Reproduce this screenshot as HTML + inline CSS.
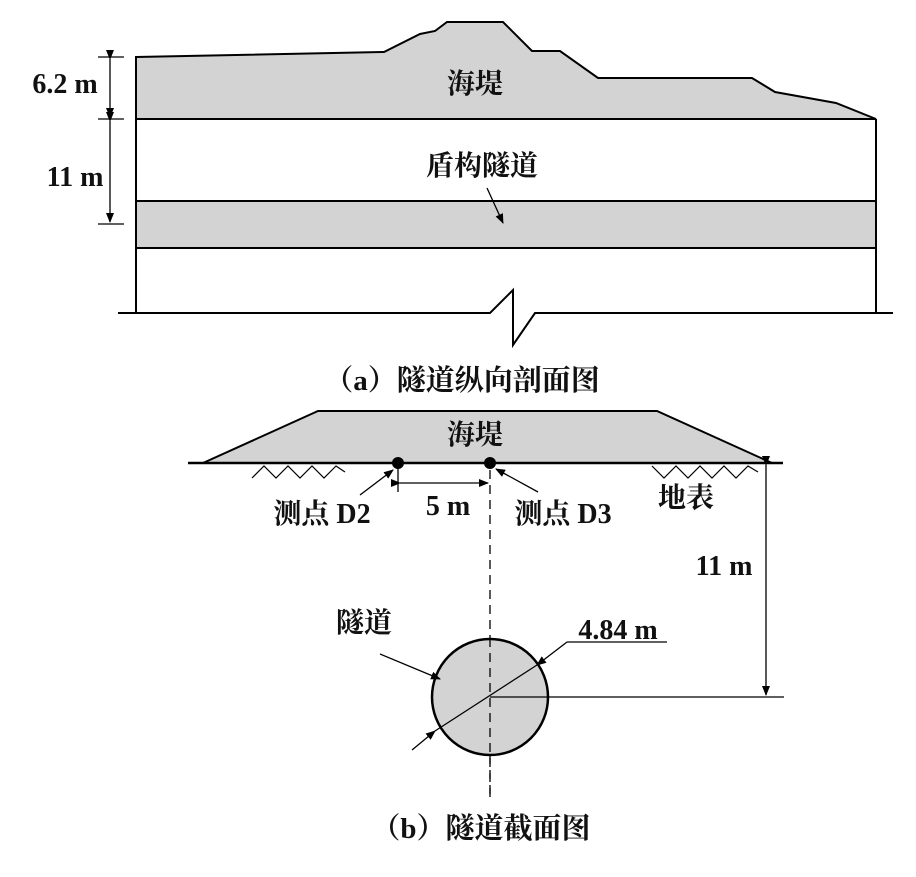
<!DOCTYPE html>
<html><head><meta charset="utf-8"><style>
body{margin:0;background:#fff}
svg text{font-family:"Liberation Serif","Noto Serif CJK SC",serif;font-weight:bold;font-size:28px;fill:#111;text-anchor:middle}
svg text.c{font-size:29px}
</style></head><body>
<svg width="916" height="872" viewBox="0 0 916 872" xmlns="http://www.w3.org/2000/svg">
<defs>
<marker id="a" markerWidth="10" markerHeight="8" refX="9" refY="4" orient="auto" markerUnits="userSpaceOnUse"><path d="M0,0 L10,4 L0,8 z" fill="#000"/></marker>
</defs>
<g stroke="#000" stroke-width="2" fill="none">
<path d="M136,57 L384,52 L420,34 L435,31 L447,22 L503,22 L532,51 L560,51 L598,78 L752,78 L775,92 L836,103 L876,119 L136,119 Z" fill="#d3d3d3"/>
<rect x="136" y="201" width="740" height="47" fill="#d3d3d3"/>
<path d="M136,119 H876 M136,119 V313 M876,119 V313"/>
<path d="M118,313 H490 L513,290 V345 L535,313 H893"/>
</g>
<g stroke="#000" stroke-width="1.3" fill="none">
<line x1="98" y1="57" x2="124" y2="57"/><line x1="98" y1="119" x2="124" y2="119"/><line x1="98" y1="224" x2="124" y2="224"/>
<line x1="110" y1="59" x2="110" y2="117" marker-start="url(#a)" marker-end="url(#a)"/>
<line x1="110" y1="121" x2="110" y2="222" marker-start="url(#a)" marker-end="url(#a)"/>
<line x1="487" y1="188" x2="503" y2="223" marker-end="url(#a)"/>
</g>
<text x="65" y="93">6.2 m</text>
<text x="75" y="186">11 m</text>
<text x="475" y="93">海堤</text>
<text x="482" y="175">盾构隧道</text>
<text class="c" x="462" y="390">（a）隧道纵向剖面图</text>

<path d="M203,463 L318,411 L657,411 L772,463 Z" fill="#d3d3d3" stroke="#000" stroke-width="2"/>
<line x1="188" y1="463" x2="783" y2="463" stroke="#000" stroke-width="2.5"/>
<g stroke="#000" stroke-width="1.2" fill="none">
<path d="M252,478 L264,466 L276,478 L288,466 L300,478 L312,466 L324,478 L336,466 L345,472"/>
<path d="M652,466 L664,478 L676,466 L688,478 L700,466 L712,478 L724,466 L736,478 L748,466 L758,472"/>
</g>
<circle cx="398" cy="463" r="6" fill="#000"/>
<circle cx="490" cy="463" r="6" fill="#000"/>
<g stroke="#000" stroke-width="1.3" fill="none">
<line x1="490" y1="470" x2="490" y2="800" stroke-dasharray="9,6"/>
<line x1="398" y1="468" x2="398" y2="492"/>
<line x1="400" y1="483" x2="488" y2="483" marker-start="url(#a)" marker-end="url(#a)"/>
<line x1="360" y1="495" x2="393" y2="470" marker-end="url(#a)"/>
<line x1="538" y1="492" x2="496" y2="469" marker-end="url(#a)"/>
<line x1="766" y1="465" x2="766" y2="695" marker-start="url(#a)" marker-end="url(#a)"/>
</g>
<circle cx="490" cy="697" r="58" fill="#d3d3d3" stroke="#000" stroke-width="2.5"/>
<g stroke="#000" stroke-width="1.3" fill="none">
<line x1="490" y1="638" x2="490" y2="800" stroke-dasharray="9,6"/>
<line x1="490" y1="697" x2="784" y2="697"/>
<line x1="435" y1="731" x2="537" y2="665"/>
<line x1="567" y1="642" x2="537" y2="665" marker-end="url(#a)"/>
<line x1="567" y1="642" x2="667" y2="642"/>
<line x1="412" y1="750" x2="435" y2="731" marker-end="url(#a)"/>
<line x1="380" y1="654" x2="440" y2="679" marker-end="url(#a)"/>
</g>
<text x="475" y="444">海堤</text>
<text x="322" y="523">测点 D2</text>
<text x="448" y="515">5 m</text>
<text x="563" y="523">测点 D3</text>
<text x="686" y="507">地表</text>
<text x="724" y="575">11 m</text>
<text x="364" y="632">隧道</text>
<text x="618" y="639">4.84 m</text>
<text class="c" x="481" y="838">（b）隧道截面图</text>
</svg>
</body></html>
